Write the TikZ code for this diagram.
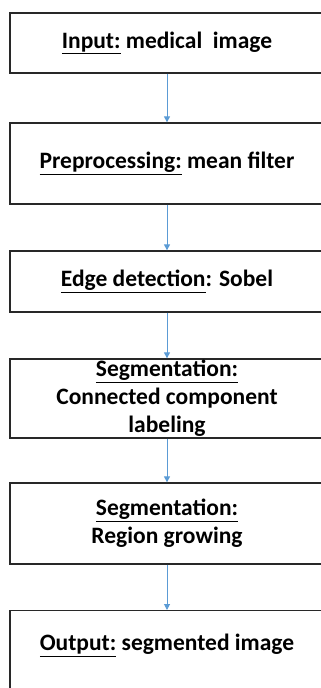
\documentclass[tikz,border=0pt]{standalone}
\usepackage{fontspec}
\setmainfont{Carlito}
\usetikzlibrary{arrows.meta}
\definecolor{arrowblue}{RGB}{91,155,213}
\definecolor{boxline}{RGB}{40,40,40}
\begin{document}
\begin{tikzpicture}[x=1pt,y=-1pt,
  box/.style={draw=boxline,line width=1.3pt,rectangle,minimum width=314pt,inner sep=0pt,
    align=center,font=\fontsize{23.5}{28}\selectfont\bfseries},
  flow/.style={draw=arrowblue,line width=1pt,-{Triangle[length=6pt,width=6pt]}}]
\useasboundingbox (0,0) rectangle (321,688);
\node[box,minimum height=60pt] (b1) at (167,43) {\underline{Input:} medical\ \ image};
\node[box,minimum height=81pt] (b2) at (167,163.5) {\underline{Preprocessing:} mean filter};
\node[box,minimum height=61pt] (b3) at (167,281.5) {\underline{Edge detection}: Sobel};
\node[box,minimum height=79pt] (b4) at (167,398.5) {\underline{Segmentation:}\\Connected component\\labeling};
\node[box,minimum height=81pt] (b5) at (167,523.5) {\underline{Segmentation:}\\Region growing};
\node[box,anchor=north,text height=40pt,text depth=50pt] (b6) at (167,610) {\underline{Output:} segmented image};
\draw[flow] (b1) -- (b2);
\draw[flow] (b2) -- (b3);
\draw[flow] (b3) -- (b4);
\draw[flow] (b4) -- (b5);
\draw[flow] (b5) -- (b6);
\end{tikzpicture}
\end{document}
